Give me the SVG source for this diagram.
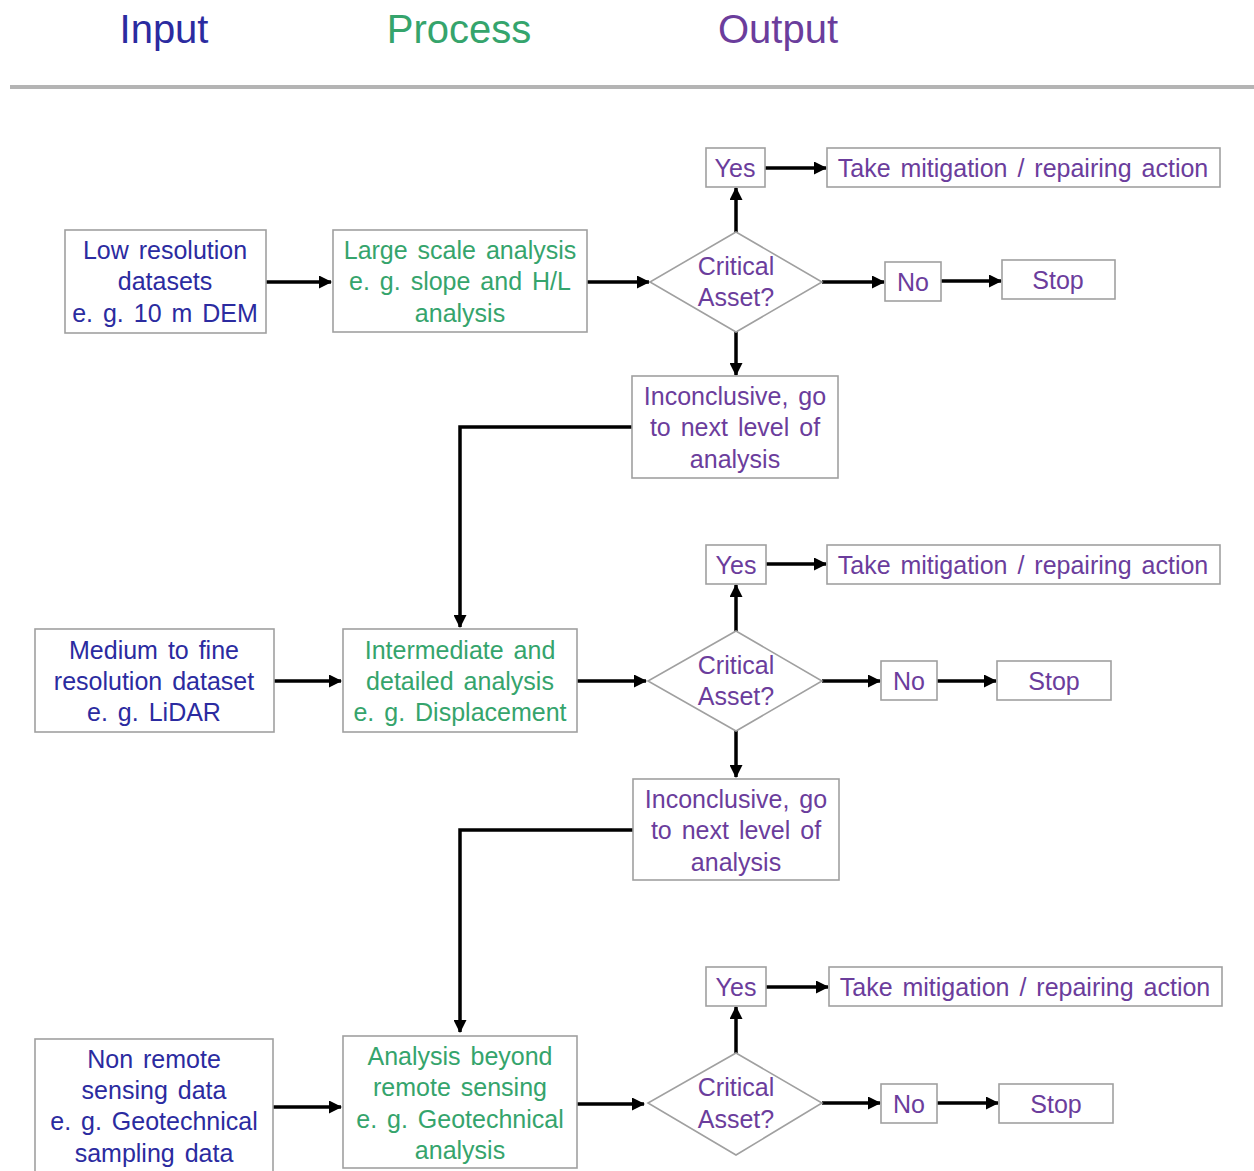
<svg xmlns="http://www.w3.org/2000/svg" width="1254" height="1171" viewBox="0 0 1254 1171">
<style>
text{font-family:"Liberation Sans",Arial,sans-serif;font-size:25px;text-anchor:middle;word-spacing:3px}
.box{fill:#fff;stroke:#a0a0a0;stroke-width:1.6}
.in{fill:#2b2ba0}
.pr{fill:#35a46c}
.out{fill:#6b3d9c}
.hd{font-size:40px;word-spacing:0}
.c{fill:none;stroke:#000;stroke-width:3.5;marker-end:url(#ah)}
</style>
<defs>
<marker id="ah" markerUnits="userSpaceOnUse" markerWidth="14" markerHeight="13" refX="12" refY="6.5" orient="auto">
<path d="M0,0 L13,6.5 L0,13 Z" fill="#000"/>
</marker>
</defs>
<rect width="1254" height="1171" fill="#fff"/>
<g id="header">
<text class="hd in" x="164" y="43" fill="#1a1ab0">Input</text>
<text class="hd pr" x="459" y="43">Process</text>
<text class="hd out" x="778" y="43">Output</text>
<line x1="10" y1="87" x2="1254" y2="87" stroke="#b4b4b4" stroke-width="4"/>
</g>
<g id="connectors">
<path class="c" d="M266,282 H331"/>
<path class="c" d="M587,282 H649"/>
<path class="c" d="M736,232 V188"/>
<path class="c" d="M765,168 H826"/>
<path class="c" d="M822,282 H884"/>
<path class="c" d="M941,281 H1001"/>
<path class="c" d="M736,332 V375"/>
<path class="c" d="M632,427 H460 V627"/>
<path class="c" d="M274,681 H341"/>
<path class="c" d="M577,681 H646"/>
<path class="c" d="M736,631 V585"/>
<path class="c" d="M766,564 H826"/>
<path class="c" d="M822,681 H880"/>
<path class="c" d="M937,681 H996"/>
<path class="c" d="M736,731 V777"/>
<path class="c" d="M633,830 H460 V1032"/>
<path class="c" d="M273,1107 H341"/>
<path class="c" d="M577,1104 H644"/>
<path class="c" d="M736,1053 V1007"/>
<path class="c" d="M766,987 H828"/>
<path class="c" d="M822,1103 H880"/>
<path class="c" d="M937,1103 H998"/>
</g>
<g id="low-res">
<rect class="box" x="65" y="230" width="201" height="103"/>
<text class="in" x="165" y="259">Low resolution</text>
<text class="in" x="165" y="290">datasets</text>
<text class="in" x="165" y="322">e. g. 10 m DEM</text>
</g>
<g id="large-scale">
<rect class="box" x="333" y="230" width="254" height="102"/>
<text class="pr" x="460" y="259">Large scale analysis</text>
<text class="pr" x="460" y="290">e. g. slope and H/L</text>
<text class="pr" x="460" y="322">analysis</text>
</g>
<g id="critical-1">
<polygon class="box" points="736,232 822,282 736,332 650,282"/>
<text class="out" x="736" y="275">Critical</text>
<text class="out" x="736" y="306">Asset?</text>
</g>
<g id="yes-1">
<rect class="box" x="706" y="148" width="59" height="39"/>
<text class="out" x="735" y="177">Yes</text>
</g>
<g id="action-1">
<rect class="box" x="827" y="148" width="393" height="39"/>
<text class="out" x="1023" y="177">Take mitigation / repairing action</text>
</g>
<g id="no-1">
<rect class="box" x="885" y="262" width="56" height="39"/>
<text class="out" x="913" y="291">No</text>
</g>
<g id="stop-1">
<rect class="box" x="1002" y="260" width="113" height="39"/>
<text class="out" x="1058" y="289">Stop</text>
</g>
<g id="inconclusive-1">
<rect class="box" x="632" y="376" width="206" height="102"/>
<text class="out" x="735" y="405">Inconclusive, go</text>
<text class="out" x="735" y="436">to next level of</text>
<text class="out" x="735" y="468">analysis</text>
</g>
<g id="medium-res">
<rect class="box" x="35" y="629" width="239" height="103"/>
<text class="in" x="154" y="659">Medium to fine</text>
<text class="in" x="154" y="690">resolution dataset</text>
<text class="in" x="154" y="721">e. g. LiDAR</text>
</g>
<g id="intermediate">
<rect class="box" x="343" y="629" width="234" height="103"/>
<text class="pr" x="460" y="659">Intermediate and</text>
<text class="pr" x="460" y="690">detailed analysis</text>
<text class="pr" x="460" y="721">e. g. Displacement</text>
</g>
<g id="critical-2">
<polygon class="box" points="736,631 822,681 736,731 648,681"/>
<text class="out" x="736" y="674">Critical</text>
<text class="out" x="736" y="705">Asset?</text>
</g>
<g id="yes-2">
<rect class="box" x="706" y="545" width="60" height="39"/>
<text class="out" x="736" y="574">Yes</text>
</g>
<g id="action-2">
<rect class="box" x="827" y="545" width="393" height="39"/>
<text class="out" x="1023" y="574">Take mitigation / repairing action</text>
</g>
<g id="no-2">
<rect class="box" x="881" y="661" width="56" height="39"/>
<text class="out" x="909" y="690">No</text>
</g>
<g id="stop-2">
<rect class="box" x="997" y="661" width="114" height="39"/>
<text class="out" x="1054" y="690">Stop</text>
</g>
<g id="inconclusive-2">
<rect class="box" x="633" y="779" width="206" height="101"/>
<text class="out" x="736" y="808">Inconclusive, go</text>
<text class="out" x="736" y="839">to next level of</text>
<text class="out" x="736" y="871">analysis</text>
</g>
<g id="non-remote">
<rect class="box" x="35" y="1039" width="238" height="140"/>
<text class="in" x="154" y="1068">Non remote</text>
<text class="in" x="154" y="1099">sensing data</text>
<text class="in" x="154" y="1130">e. g. Geotechnical</text>
<text class="in" x="154" y="1162">sampling data</text>
</g>
<g id="beyond">
<rect class="box" x="343" y="1036" width="234" height="132"/>
<text class="pr" x="460" y="1065">Analysis beyond</text>
<text class="pr" x="460" y="1096">remote sensing</text>
<text class="pr" x="460" y="1128">e. g. Geotechnical</text>
<text class="pr" x="460" y="1159">analysis</text>
</g>
<g id="critical-3">
<polygon class="box" points="736,1053 822,1103 736,1155 648,1103"/>
<text class="out" x="736" y="1096">Critical</text>
<text class="out" x="736" y="1128">Asset?</text>
</g>
<g id="yes-3">
<rect class="box" x="706" y="967" width="60" height="39"/>
<text class="out" x="736" y="996">Yes</text>
</g>
<g id="action-3">
<rect class="box" x="829" y="967" width="393" height="39"/>
<text class="out" x="1025" y="996">Take mitigation / repairing action</text>
</g>
<g id="no-3">
<rect class="box" x="881" y="1084" width="56" height="39"/>
<text class="out" x="909" y="1113">No</text>
</g>
<g id="stop-3">
<rect class="box" x="999" y="1084" width="114" height="39"/>
<text class="out" x="1056" y="1113">Stop</text>
</g>
</svg>
